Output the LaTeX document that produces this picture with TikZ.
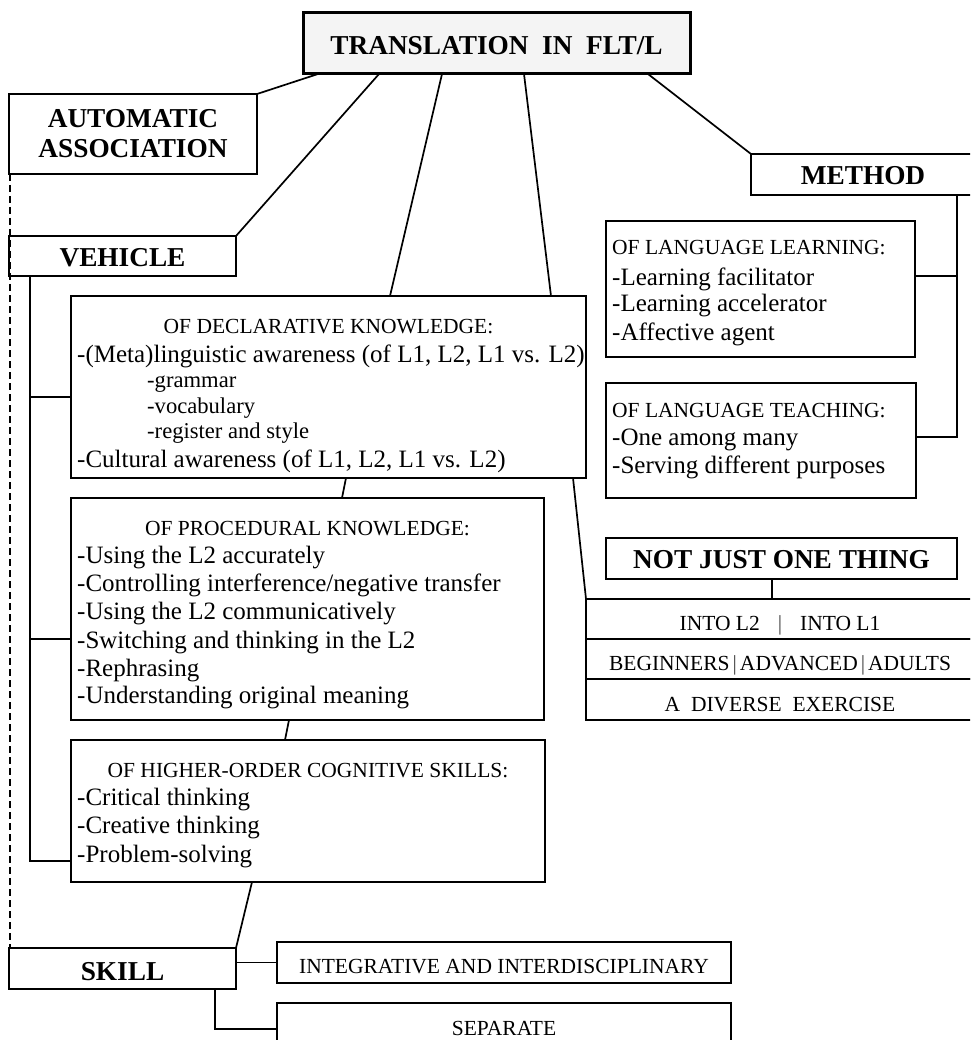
\documentclass[tikz,border=0pt]{standalone}
\usepackage{fontspec}
\setmainfont{Liberation Serif}
\begin{document}
\begin{tikzpicture}[x=1pt,y=-1pt,
  box/.style={draw, line width=2pt, rectangle, inner sep=0pt, outer sep=0pt, anchor=north west},
  conn/.style={line width=1.7pt},
  hd/.style={font=\bfseries\fontsize{27.3}{30}\selectfont, inner sep=0pt, anchor=base},
  itm/.style={font=\fontsize{25}{28}\selectfont, inner sep=0pt, anchor=base west},
  capc/.style={font=\fontsize{21.5}{24}\selectfont, inner sep=0pt, anchor=base},
  capl/.style={font=\fontsize{21.5}{24}\selectfont, inner sep=0pt, anchor=base west},
  subitm/.style={font=\fontsize{22.6}{25}\selectfont, inner sep=0pt, anchor=base west},
  barsep/.style={text=black!75}]
\useasboundingbox (0,0) rectangle (970,1040);
\clip (0,0) rectangle (970,1040);

% boxes
\node[box, fill=gray!9, line width=3pt, minimum width=387pt, minimum height=61pt] (top) at (303,13) {};
\node[box, minimum width=248pt, minimum height=80pt] (auto) at (9,94) {};
\node[box, minimum width=227pt, minimum height=40pt] (veh) at (9,236) {};
\node[box, minimum width=515pt, minimum height=182pt] (decl) at (71,296) {};
\node[box, minimum width=473pt, minimum height=222pt] (proc) at (71,498) {};
\node[box, minimum width=474pt, minimum height=142pt] (high) at (71,740) {};
\node[box, minimum width=227pt, minimum height=41pt] (skill) at (9,948) {};
\node[box, minimum width=454pt, minimum height=41pt] (integ) at (277,942) {};
\node[box, minimum width=454pt, minimum height=52pt] (sep) at (277,1003) {};
\node[box, minimum width=224pt, minimum height=41pt] (method) at (751,154) {};
\node[box, minimum width=309pt, minimum height=136pt] (learn) at (606,221) {};
\node[box, minimum width=310pt, minimum height=115pt] (teach) at (606,383) {};
\node[box, minimum width=351pt, minimum height=41pt] (notjust) at (606,538) {};
\node[box, minimum width=389pt, minimum height=40pt] (r1) at (586,599) {};
\node[box, minimum width=389pt, minimum height=40pt] (r2) at (586,639) {};
\node[box, minimum width=389pt, minimum height=41pt] (r3) at (586,679) {};

% texts
\node[hd] (ttop) at (496.5,55) {TRANSLATION\hspace{0.5em}IN\hspace{0.5em}FLT/L};
\node[hd] (tauto1) at (133,128) {AUTOMATIC};
\node[hd] (tauto2) at (133,158) {ASSOCIATION};
\node[hd] (tveh) at (122.5,267) {VEHICLE};
\node[hd] (tmethod) at (863,185) {METHOD};
\node[hd] (tnot) at (781.5,568) {NOT JUST ONE THING};
\node[hd] (tskill) at (122.5,980) {SKILL};

\node[capc] (dh) at (328.5,333) {OF DECLARATIVE KNOWLEDGE:};
\node[itm] (d1) at (77,362) {-(Meta)linguistic awareness (of L1, L2, L1 vs. L2)};
\node[subitm] (d2) at (147,387) {-grammar};
\node[subitm] (d3) at (147,413) {-vocabulary};
\node[subitm] (d4) at (147,438) {-register and style};
\node[itm] (d5) at (77,467) {-Cultural awareness (of L1, L2, L1 vs. L2)};

\node[capc] (ph) at (307.5,535) {OF PROCEDURAL KNOWLEDGE:};
\node[itm] (p1) at (77,563) {-Using the L2 accurately};
\node[itm] (p2) at (77,591) {-Controlling interference/negative transfer};
\node[itm] (p3) at (77,619) {-Using the L2 communicatively};
\node[itm] (p4) at (77,648) {-Switching and thinking in the L2};
\node[itm] (p5) at (77,676) {-Rephrasing};
\node[itm] (p6) at (77,703) {-Understanding original meaning};

\node[capc] (hh) at (308,777) {OF HIGHER-ORDER COGNITIVE SKILLS:};
\node[itm] (h1) at (77,805) {-Critical thinking};
\node[itm] (h2) at (77,833) {-Creative thinking};
\node[itm] (h3) at (77,862) {-Problem-solving};

\node[capl] (lh) at (612,255) {OF LANGUAGE LEARNING:};
\node[itm] (l1) at (612,285) {-Learning facilitator};
\node[itm] (l2) at (612,312) {-Learning accelerator};
\node[itm] (l3) at (612,340) {-Affective agent};

\node[capl] (th) at (612,417) {OF LANGUAGE TEACHING:};
\node[itm] (t1) at (612,445) {-One among many};
\node[itm] (t2) at (612,473) {-Serving different purposes};

\node[capc] (s1) at (780,630) {INTO L2\hspace{18pt}{\color{black!75}|}\hspace{18pt}INTO L1};
\node[capc] (s2) at (780,670) {BEGINNERS\hspace{3pt}{\color{black!75}|}\hspace{3pt}ADVANCED\hspace{3pt}{\color{black!75}|}\hspace{3pt}ADULTS};
\node[capc] (s3) at (780,711) {A\hspace{0.5em}DIVERSE\hspace{0.5em}EXERCISE};

\node[capc] (ti) at (504,973) {INTEGRATIVE AND INTERDISCIPLINARY};
\node[capc] (ts) at (504,1035) {SEPARATE};

% connectors
\draw[conn] ([xshift=15pt]top.south west) -- (auto.north east);
\draw[conn] ([xshift=76pt]top.south west) -- (veh.north east);
\draw[conn] ([xshift=139pt]top.south west) -- ([xshift=319pt]decl.north west);
\draw[conn] ([xshift=221pt]top.south west) -- ([xshift=480pt]decl.north west);
\draw[conn] ([xshift=345pt]top.south west) -- (method.north west);
\draw[line width=1.3pt, dash pattern=on 7pt off 4pt] ([xshift=1pt]auto.south west) -- ([xshift=1pt]skill.north west);

\coordinate (vt) at ([xshift=21pt]veh.south west);
\draw[conn] (vt) |- ([yshift=-50pt]high.west);
\draw[conn] ([yshift=-10pt]decl.west) -- ([yshift=-10pt]decl.west -| vt);
\draw[conn] ([yshift=-30pt]proc.west) -- ([yshift=-30pt]proc.west -| vt);

\draw[conn] ([xshift=275pt]decl.south west) -- ([xshift=271pt]proc.north west);
\draw[conn] ([xshift=218pt]proc.south west) -- ([xshift=214pt]high.north west);
\draw[conn] ([xshift=181pt]high.south west) -- (skill.north east);
\draw[conn] (integ.west) -- (integ.west -| skill.east);
\draw[conn] ([xshift=-21pt]skill.south east) |- (sep.west);

\coordinate (mt) at ([xshift=206pt]method.south west);
\draw[conn] (mt) |- ([yshift=3.5pt]teach.east);
\draw[conn] ([yshift=13pt]learn.east) -- ([yshift=13pt]learn.east -| mt);

\draw[conn] ([xshift=-13pt]decl.south east) -- (r1.north west);
\draw[conn] ([xshift=-9.5pt]notjust.south) -- ([xshift=-9.5pt]notjust.south |- r1.north);
\end{tikzpicture}
\end{document}
